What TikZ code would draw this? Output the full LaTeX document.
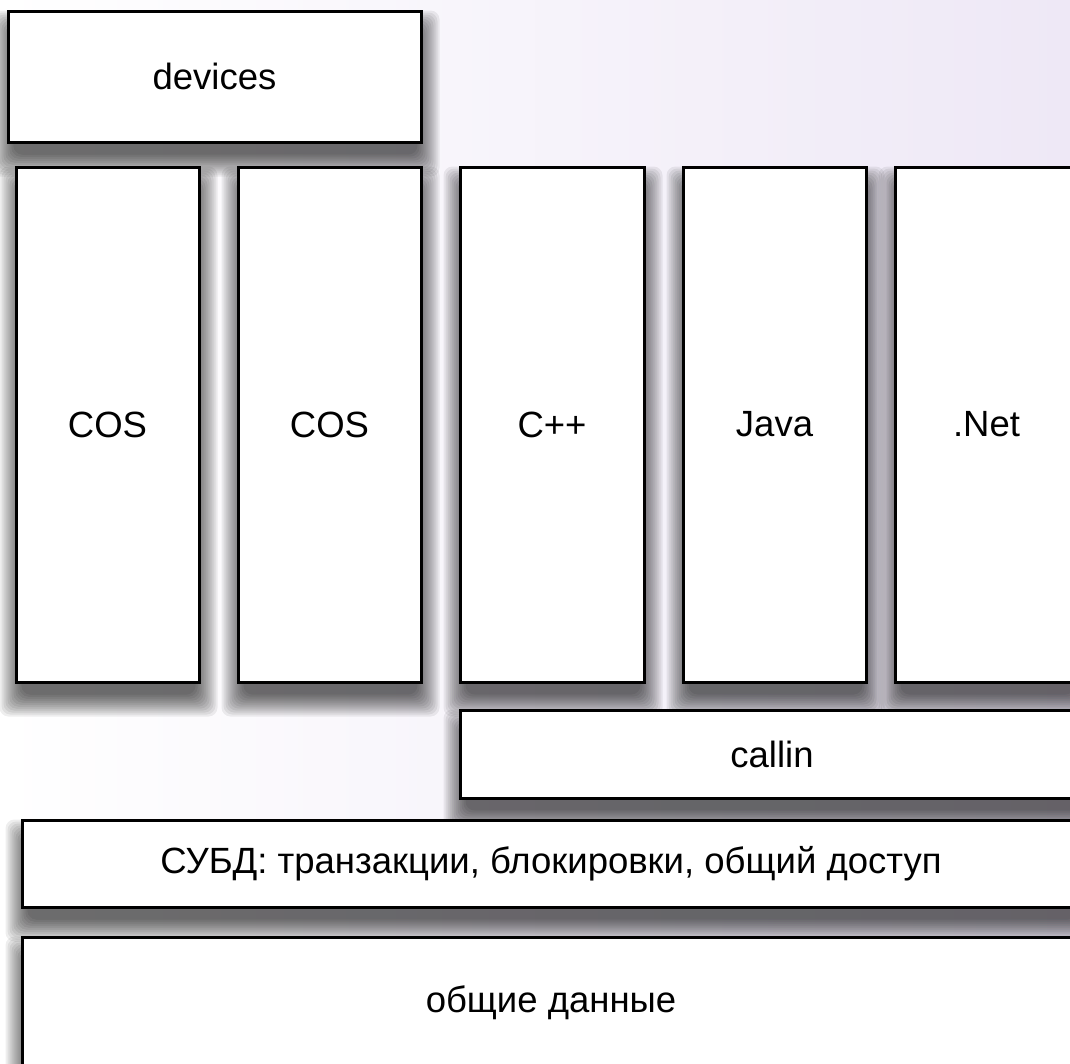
\documentclass[tikz,border=0pt]{standalone}
\usepackage{fontspec}
\setmainfont{Liberation Sans}
\definecolor{bglav}{RGB}{238,232,246}
\pgfdeclarelayer{bglayer}
\pgfdeclarelayer{shadowlayer}
\pgfsetlayers{bglayer,shadowlayer,main}
\tikzset{
  box/.style={draw=black, line width=3pt, fill=white, rectangle, inner sep=0pt,
    font=\fontsize{36.5}{40}\selectfont},
  shadowpiece/.style={fill=black, fill opacity=0.065, rounded corners=9pt}
}
\newcommand\boxshadow[1]{%
  \begin{pgfonlayer}{shadowlayer}
  \foreach \r in {-6,-4,...,16}{
    \fill[shadowpiece] ([shift={(1-\r,17-\r)}]#1.north west) rectangle ([shift={(1+\r,17+\r)}]#1.south east);
  }
  \end{pgfonlayer}}
\begin{document}
\begin{tikzpicture}[x=1pt,y=-1pt]
\useasboundingbox (0,0) rectangle (1070,1063);
\clip (0,0) rectangle (1070,1063);
\begin{pgfonlayer}{bglayer}
\shade[left color=white, right color=bglav] (0,0) rectangle (1070,1063);
\end{pgfonlayer}
\node[box, minimum width=413pt, minimum height=131pt] (dev) at (214.5,76.5) {devices};
\node[box, minimum width=183pt, minimum height=515pt] (cos1) at (107.5,424.5) {COS};
\node[box, minimum width=183pt, minimum height=515pt] (cos2) at (329.5,424.5) {COS};
\node[box, minimum width=184pt, minimum height=515pt] (cpp) at (552,424.5) {C++};
\node[box, minimum width=183pt, minimum height=515pt] (java) at (774.5,424.5) {Java};
\node[box, minimum width=183pt, minimum height=515pt] (net) at (986.5,424.5) {.Net};
\node[box, minimum width=624pt, minimum height=88pt] (callin) at (772,754) {callin};
\node[box, minimum width=1058pt, minimum height=87pt] (subd) at (551,863.5) {СУБД: транзакции, блокировки, общий доступ};
\node[box, minimum width=1058pt, minimum height=132pt] (data) at (551,1003) {общие данные};
\boxshadow{dev}
\boxshadow{cos1}
\boxshadow{cos2}
\boxshadow{cpp}
\boxshadow{java}
\boxshadow{net}
\boxshadow{callin}
\boxshadow{subd}
\boxshadow{data}
\end{tikzpicture}
\end{document}
